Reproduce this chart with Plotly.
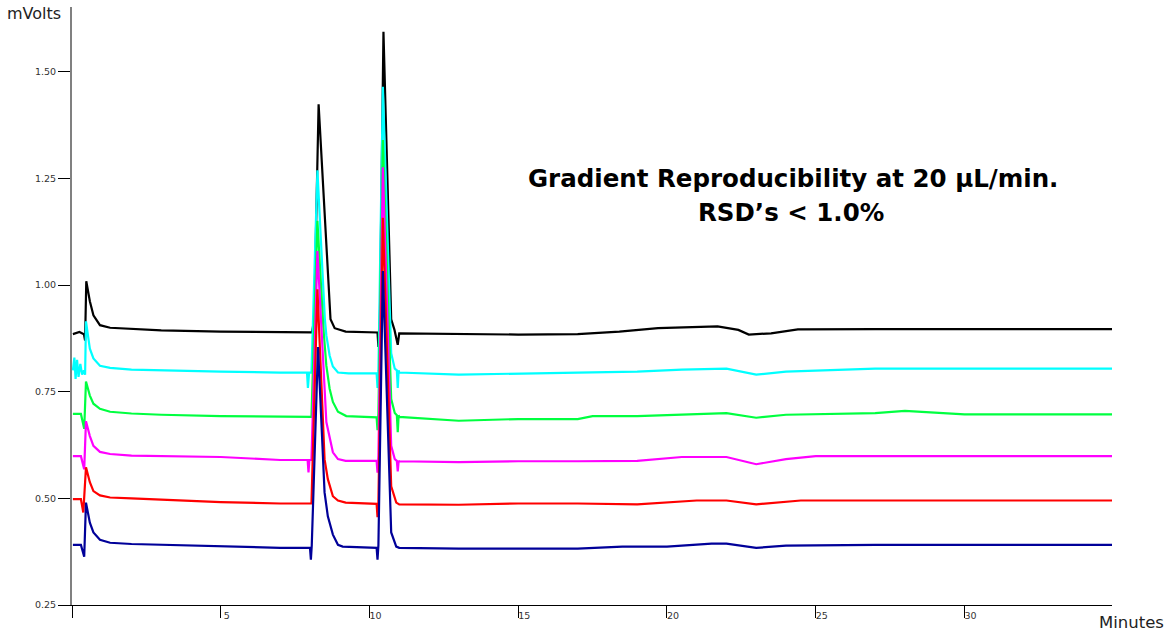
import plotly.graph_objects as go

# ---- data (time in minutes, signal in mVolts) ----
t_black = [0.03, 0.25, 0.40, 0.44, 0.48, 0.60, 0.72, 0.94, 1.28, 2.0,
           3.0, 5.0, 7.0, 8.07, 8.14, 8.29, 8.69, 8.83, 9.2, 10.27,
           10.30, 10.35, 10.47, 10.73, 10.84, 10.95, 11.0, 13.0, 15.0, 17.0,
           18.4, 19.7, 21.7, 22.4, 22.75, 23.5, 24.4, 27.0, 30.0, 34.96]
v_black = [0.885, 0.89, 0.885, 0.87, 1.009, 0.962, 0.929, 0.906, 0.900, 0.897,
           0.894, 0.891, 0.889, 0.889, 0.92, 1.424, 0.92, 0.899, 0.891, 0.889,
           0.855, 0.92, 1.594, 0.92, 0.895, 0.86, 0.887, 0.886, 0.884, 0.885,
           0.891, 0.899, 0.903, 0.895, 0.884, 0.887, 0.896, 0.897, 0.897, 0.897]

t_cyan = [0.03, 0.08, 0.12, 0.17, 0.22, 0.28, 0.34, 0.40, 0.44, 0.47,
          0.60, 0.72, 0.94, 1.28, 2.0, 3.0, 5.0, 7.0,
          7.90, 7.93, 7.97, 8.05, 8.25, 8.50, 8.55, 8.66, 8.77, 8.94,
          9.3, 10.24, 10.27, 10.30, 10.45, 10.73, 10.85, 10.92, 10.95, 10.98,
          11.0, 13.0, 15.0, 17.0, 19.0, 20.5, 22.0, 23.0, 24.0, 27.0,
          30.0, 34.96]
v_cyan = [0.80, 0.83, 0.78, 0.825, 0.785, 0.815, 0.79, 0.80, 0.79, 0.915,
          0.851, 0.828, 0.811, 0.806, 0.802, 0.80, 0.797, 0.795,
          0.795, 0.759, 0.795, 0.795, 1.269, 0.92, 0.882, 0.835, 0.809, 0.795,
          0.793, 0.793, 0.759, 0.80, 1.465, 0.84, 0.804, 0.80, 0.759, 0.80,
          0.795, 0.79, 0.793, 0.795, 0.797, 0.802, 0.804, 0.79, 0.797, 0.804,
          0.804, 0.804]

t_green = [0.03, 0.30, 0.41, 0.47, 0.60, 0.72, 0.94, 1.28, 2.0, 3.0,
           5.0, 7.0, 8.05, 8.25, 8.45, 8.55, 8.66, 8.77, 8.94, 9.22,
           10.24, 10.27, 10.30, 10.45, 10.73, 10.85, 10.92, 10.95, 10.98, 11.0,
           13.0, 15.0, 17.0, 17.5, 19.0, 20.5, 22.0, 23.0, 24.0, 27.0,
           28.0, 30.0, 34.96]
v_green = [0.698, 0.698, 0.663, 0.774, 0.741, 0.722, 0.71, 0.703, 0.699, 0.696,
           0.693, 0.691, 0.691, 1.151, 0.90, 0.811, 0.757, 0.726, 0.703, 0.693,
           0.69, 0.66, 0.70, 1.34, 0.733, 0.70, 0.695, 0.655, 0.695, 0.691,
           0.682, 0.686, 0.686, 0.693, 0.693, 0.696, 0.70, 0.689, 0.696, 0.70,
           0.705, 0.697, 0.697]

t_magenta = [0.03, 0.30, 0.41, 0.47, 0.60, 0.72, 0.94, 1.28, 2.0, 3.0,
             5.0, 7.0, 7.92, 7.95, 7.98, 8.05, 8.25, 8.55, 8.66, 8.77,
             8.94, 9.2, 10.24, 10.27, 10.30, 10.45, 10.73, 10.85, 10.92, 10.95,
             10.98, 11.0, 13.0, 15.0, 17.0, 19.0, 20.5, 22.0, 23.0, 24.0,
             25.0, 30.0, 34.96]
v_magenta = [0.599, 0.599, 0.568, 0.681, 0.646, 0.623, 0.609, 0.604, 0.60, 0.599,
             0.597, 0.59, 0.59, 0.561, 0.59, 0.59, 1.08, 0.679, 0.639, 0.608,
             0.592, 0.588, 0.588, 0.56, 0.60, 1.276, 0.623, 0.592, 0.588, 0.563,
             0.588, 0.587, 0.585, 0.587, 0.587, 0.588, 0.597, 0.597, 0.58, 0.592,
             0.599, 0.599, 0.599]

t_red = [0.03, 0.30, 0.38, 0.47, 0.60, 0.72, 0.94, 1.28, 2.0, 3.0,
         5.0, 7.0, 8.05, 8.25, 8.49, 8.60, 8.77, 8.94, 9.2, 10.24,
         10.27, 10.30, 10.45, 10.73, 10.90, 11.0, 13.0, 15.0, 17.0, 19.0,
         20.0, 21.0, 22.0, 23.0, 24.5, 27.0, 30.0, 34.96]
v_red = [0.498, 0.498, 0.467, 0.573, 0.538, 0.517, 0.507, 0.502, 0.50, 0.497,
         0.491, 0.488, 0.488, 0.99, 0.592, 0.545, 0.505, 0.495, 0.49, 0.487,
         0.456, 0.49, 1.158, 0.528, 0.49, 0.486, 0.485, 0.488, 0.488, 0.486,
         0.491, 0.495, 0.495, 0.486, 0.495, 0.495, 0.495, 0.495]

t_blue = [0.03, 0.30, 0.41, 0.47, 0.60, 0.72, 0.94, 1.28, 2.0, 3.0,
          5.0, 7.0, 8.00, 8.03, 8.06, 8.27, 8.49, 8.60, 8.77, 8.94,
          9.1, 10.24, 10.27, 10.30, 10.45, 10.73, 10.90, 11.0, 13.0, 15.0,
          17.0, 18.5, 20.0, 21.5, 22.0, 23.0, 24.0, 27.0, 30.0, 34.96]
v_blue = [0.391, 0.391, 0.363, 0.49, 0.443, 0.42, 0.403, 0.396, 0.393, 0.391,
          0.387, 0.384, 0.384, 0.356, 0.39, 0.855, 0.514, 0.458, 0.415, 0.391,
          0.387, 0.384, 0.356, 0.39, 1.033, 0.42, 0.387, 0.384, 0.382, 0.382,
          0.382, 0.387, 0.387, 0.394, 0.394, 0.384, 0.389, 0.391, 0.391, 0.391]

series = [
    ("Run 1", t_black, v_black, "#000000"),
    ("Run 2", t_cyan, v_cyan, "#00ffff"),
    ("Run 3", t_green, v_green, "#00ff40"),
    ("Run 4", t_magenta, v_magenta, "#ff00ff"),
    ("Run 5", t_red, v_red, "#ff0000"),
    ("Run 6", t_blue, v_blue, "#000099"),
]

x_tick_vals = [0, 5, 10, 15, 20, 25, 30]
x_tick_text = ["", "5", "10", "15", "20", "25", "30"]
y_tick_vals = [0.25, 0.50, 0.75, 1.00, 1.25, 1.50]
y_tick_text = ["0.25", "0.50", "0.75", "1.00", "1.25", "1.50"]

title_line1 = "Gradient Reproducibility at 20 µL/min."
title_line2 = "RSD’s < 1.0%"

FONT = "DejaVu Sans"

fig = go.Figure()
for name, t, v, c in series:
    fig.add_trace(go.Scatter(x=t, y=v, mode="lines", name=name,
                             line=dict(color=c, width=2.2)))

fig.update_layout(
    width=1167, height=633,
    margin=dict(l=72, r=55, t=7, b=28),
    paper_bgcolor="white", plot_bgcolor="white",
    showlegend=False,
    font=dict(family=FONT, color="#333333"),
    xaxis=dict(range=[0, 34.96], showgrid=False, zeroline=False,
               showline=True, linecolor="#000000", linewidth=1,
               ticks="outside", ticklen=12, tickcolor="#000000", tickwidth=1,
               tickvals=x_tick_vals, ticktext=x_tick_text,
               tickfont=dict(size=9.5, color="#333333", family=FONT),
               ticklabelshift=6, ticklabelstandoff=-10),
    yaxis=dict(range=[0.25, 1.652], showgrid=False, zeroline=False,
               showline=True, linecolor="#808080", linewidth=2,
               ticks="outside", ticklen=12, tickcolor="#000000", tickwidth=1,
               tickvals=y_tick_vals, ticktext=y_tick_text,
               tickfont=dict(size=9.5, color="#333333", family=FONT)),
    annotations=[
        dict(text="mVolts", xref="paper", yref="paper", x=-0.0365, y=0.989,
             xanchor="center", yanchor="middle", showarrow=False,
             font=dict(family=FONT, size=16, color="#222222")),
        dict(text="Minutes", xref="paper", yref="paper", x=1.0188, y=-0.0293,
             xanchor="center", yanchor="middle", showarrow=False,
             font=dict(family=FONT, size=16.5, color="#222222")),
        dict(text="<b>" + title_line1 + "</b>", xref="paper", yref="paper",
             x=0.6933, y=0.714, xanchor="center", yanchor="middle", showarrow=False,
             font=dict(family=FONT, size=24.5, color="#000000")),
        dict(text="<b>" + title_line2 + "</b>", xref="paper", yref="paper",
             x=0.6918, y=0.657, xanchor="center", yanchor="middle", showarrow=False,
             font=dict(family=FONT, size=24.5, color="#000000")),
    ],
)

fig.write_html("out.html",
               config={"displayModeBar": False},
               post_script="document.body.style.margin='0';document.body.style.overflow='hidden';")
